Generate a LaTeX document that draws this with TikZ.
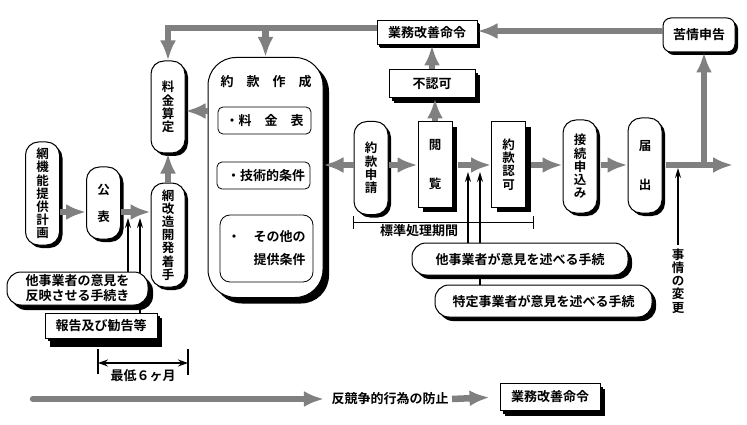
\documentclass[tikz,border=0pt]{standalone}
\usepackage{fontspec}
\setmainfont{Noto Sans CJK JP}[BoldFont={Noto Sans CJK JP Bold}]
\usetikzlibrary{arrows.meta,shadows}

\tikzset{
  jp/.style={font=\fontsize{13}{15}\selectfont\bfseries},
  vt/.style={font=\fontsize{12.5}{13.2}\selectfont\bfseries, align=center},
  shd/.style={drop shadow={shadow xshift=#1,shadow yshift=-#1,fill=black,opacity=1}},
  pill/.style={draw, line width=1pt, fill=white, rounded corners=13pt,
    minimum width=34pt, inner sep=0pt, shd=3pt, vt},
  slab/.style={draw, line width=1pt, fill=white, minimum width=34pt,
    inner sep=0pt, shd=5pt, vt},
  tag/.style={draw, line width=1pt, fill=white, inner sep=0pt, jp, shd=3pt},
  item/.style={draw, line width=0.8pt, rounded corners=5pt, inner sep=0pt,
    minimum width=93pt, jp},
  garrow/.style={draw=gray, line width=6.5pt, -{Latex[length=20pt,width=16pt]}},
  tarrow/.style={draw, line width=1.3pt, -{Stealth[length=10pt,width=6pt]}},
}

\begin{document}
\begin{tikzpicture}[x=1pt,y=-1pt]
\useasboundingbox[fill=white] (0,0) rectangle (747,425);

% rows of the gray connectors
\coordinate (rowA) at (0,212);
\coordinate (rowB) at (0,165);
\coordinate (rowC) at (0,111);
\coordinate (topL) at (0,28);
\coordinate (topR) at (0,31);

% left column
\node[pill, minimum height=103pt] (plan) at (42.5,193.5) {網\\機\\能\\提\\供\\計\\画};
\node[pill, minimum height=72pt] (pub) at (103.5,203) {公\\[14pt]表};
\node[pill, minimum height=92pt] (rate) at (168,107) {料\\金\\算\\定};
\node[pill, minimum height=104pt] (dev) at (168,235) {網\\改\\造\\開\\発\\着\\手};

% tariff drafting
\node[draw, line width=1pt, fill=white, rounded corners=28pt, minimum width=115pt,
  minimum height=240pt, shd=6pt] (make) at (265.5,177.5) {};
\node[jp] (title) at (266,82) {約　款　作　成};
\node[item, minimum height=27pt] (fee) at (264.5,120.5) {・料　金　表};
\node[item, minimum height=27pt] (tech) at (263.5,175.5) {\hspace*{5pt}・技術的条件};
\node[item, rounded corners=10pt, minimum height=67pt, align=left,
  font=\fontsize{13}{23}\selectfont\bfseries] (misc) at (266.5,248.5) {・　その他の\\　　提供条件};

% approval chain
\node[pill, minimum height=93pt] (apply) at (371,168) {約\\款\\申\\請};
\node[slab, minimum height=85pt] (view) at (435,164.5) {閲\\[25pt]覧};
\node[slab, minimum height=85pt] (approve) at (508.5,164.5) {約\\款\\認\\可};
\node[pill, minimum height=93pt] (connect) at (580,166.5) {接\\続\\申\\込\\み};
\node[pill, minimum height=95pt] (notify) at (645,165.5) {届\\[25pt]出};

\node[tag, shd=5pt, minimum width=86pt, minimum height=28pt] (reject) at (432,84) {不認可};
\node[tag, shd=2pt, minimum width=100pt, minimum height=24pt] (order) at (427,33) {業務改善命令};
\node[tag, rounded corners=8pt, minimum width=72pt, minimum height=34pt] (complaint) at (699,35) {苦情申告};

% gray flow
\draw[garrow] (plan.east |- rowA) -- (pub.west |- rowA);
\draw[garrow] (pub.east |- rowA) -- (dev.west |- rowA);
\draw[garrow] (dev.north) -- (rate.south);
\draw[garrow] (make.west |- rowC) -- (rate.east |- rowC);
\draw[garrow] (order.west |- topL) -| (rate.north);
\draw[garrow] (make.north |- topL) -- (make.north);
\draw[garrow] (complaint.west |- topR) -- (order.east |- topR);
\draw[garrow] (reject.north) -- (reject.north |- order.south);
\draw[garrow] (view.north) -- (view.north |- reject.south);
\draw[garrow] (apply.west |- rowB) -- (make.east |- rowB);
\draw[garrow] (apply.east |- rowB) -- (view.west |- rowB);
\draw[garrow, shorten <=5pt] (view.east |- rowB) -- (approve.west |- rowB);
\draw[garrow, shorten <=5pt] (approve.east |- rowB) -- (connect.west |- rowB);
\draw[garrow, shorten <=3pt] (connect.east |- rowB) -- (notify.west |- rowB);
\coordinate (fork) at (704,165);
\coordinate (outR) at (733,165);
\draw[garrow, shorten <=3pt] (notify.east |- rowB) -- (outR);
\draw[garrow] (fork) -- (fork |- complaint.south);

% left opinion procedure
\coordinate (tipL1) at (128,218);
\coordinate (tipL2) at (140,218);
\node[tag, shd=5pt, minimum width=112pt, minimum height=25pt,
  drop shadow={shadow xshift=5pt,shadow yshift=-9pt,fill=black,opacity=1}] (report) at (101,325.5) {報告及び勧告等};
\draw[tarrow] (report.north -| tipL2) -- (tipL2);
\node[tag, shd=5pt, rounded corners=14pt, minimum width=141pt, minimum height=33pt,
  align=left] (reflect) at (77.5,288.5) {他事業者の意見を\\反映させる手続き};
\draw[tarrow] (reflect.north -| tipL1) -- (tipL1);

% minimum six months
\coordinate (sixL) at (98,363);
\coordinate (sixR) at (188,363);
\draw[line width=2pt] ([yshift=-11pt]sixL) -- ([yshift=14pt]sixL);
\draw[line width=2pt] ([yshift=-12pt]sixR) -- ([yshift=14pt]sixR);
\draw[line width=1.5pt, {Stealth[length=10pt,width=7pt]}-{Stealth[length=10pt,width=7pt]}] (sixL) -- (sixR);
\node[jp] (six) at (143,376) {最低６ヶ月};

% standard processing period
\coordinate (spanL) at (353,222);
\coordinate (spanR) at (533,222);
\draw[line width=1pt] ([yshift=-7pt]spanL) -- ([yshift=6pt]spanL);
\draw[line width=1pt] ([yshift=-7pt]spanR) -- ([yshift=6pt]spanR);
\draw[line width=1pt] (spanL) -- (spanR);
\node[jp] (span) at (419,231) {標準処理期間};

% right opinion procedures
\coordinate (tipR1) at (468,172);
\coordinate (tipR2) at (480,172);
\node[tag, shd=4pt, rounded corners=14pt, minimum width=217pt, minimum height=32pt] (specific) at (543.5,301) {特定事業者が意見を述べる手続};
\draw[tarrow] (specific.north -| tipR2) -- (tipR2);
\node[tag, shd=4pt, rounded corners=14pt, minimum width=216pt, minimum height=32pt] (other) at (520,259) {他事業者が意見を述べる手続};
\draw[tarrow] (other.north -| tipR1) -- (tipR1);

% change of circumstances
\coordinate (tipC) at (678,168);
\node[vt] (change) at (678,281) {事\\情\\の\\変\\更};
\draw[tarrow] (change.north) -- (tipC);

% bottom line
\coordinate (startB) at (33,399);
\node[jp] (prevent) at (390,399) {反競争的行為の防止};
\node[tag, shd=5pt, minimum width=100pt, minimum height=27pt] (order2) at (550,397) {業務改善命令};
\draw[garrow, line cap=round, shorten >=4pt] (startB) -- (prevent.west);
\draw[garrow, shorten >=10pt] (prevent.east) -- (order2.west);
\end{tikzpicture}
\end{document}
